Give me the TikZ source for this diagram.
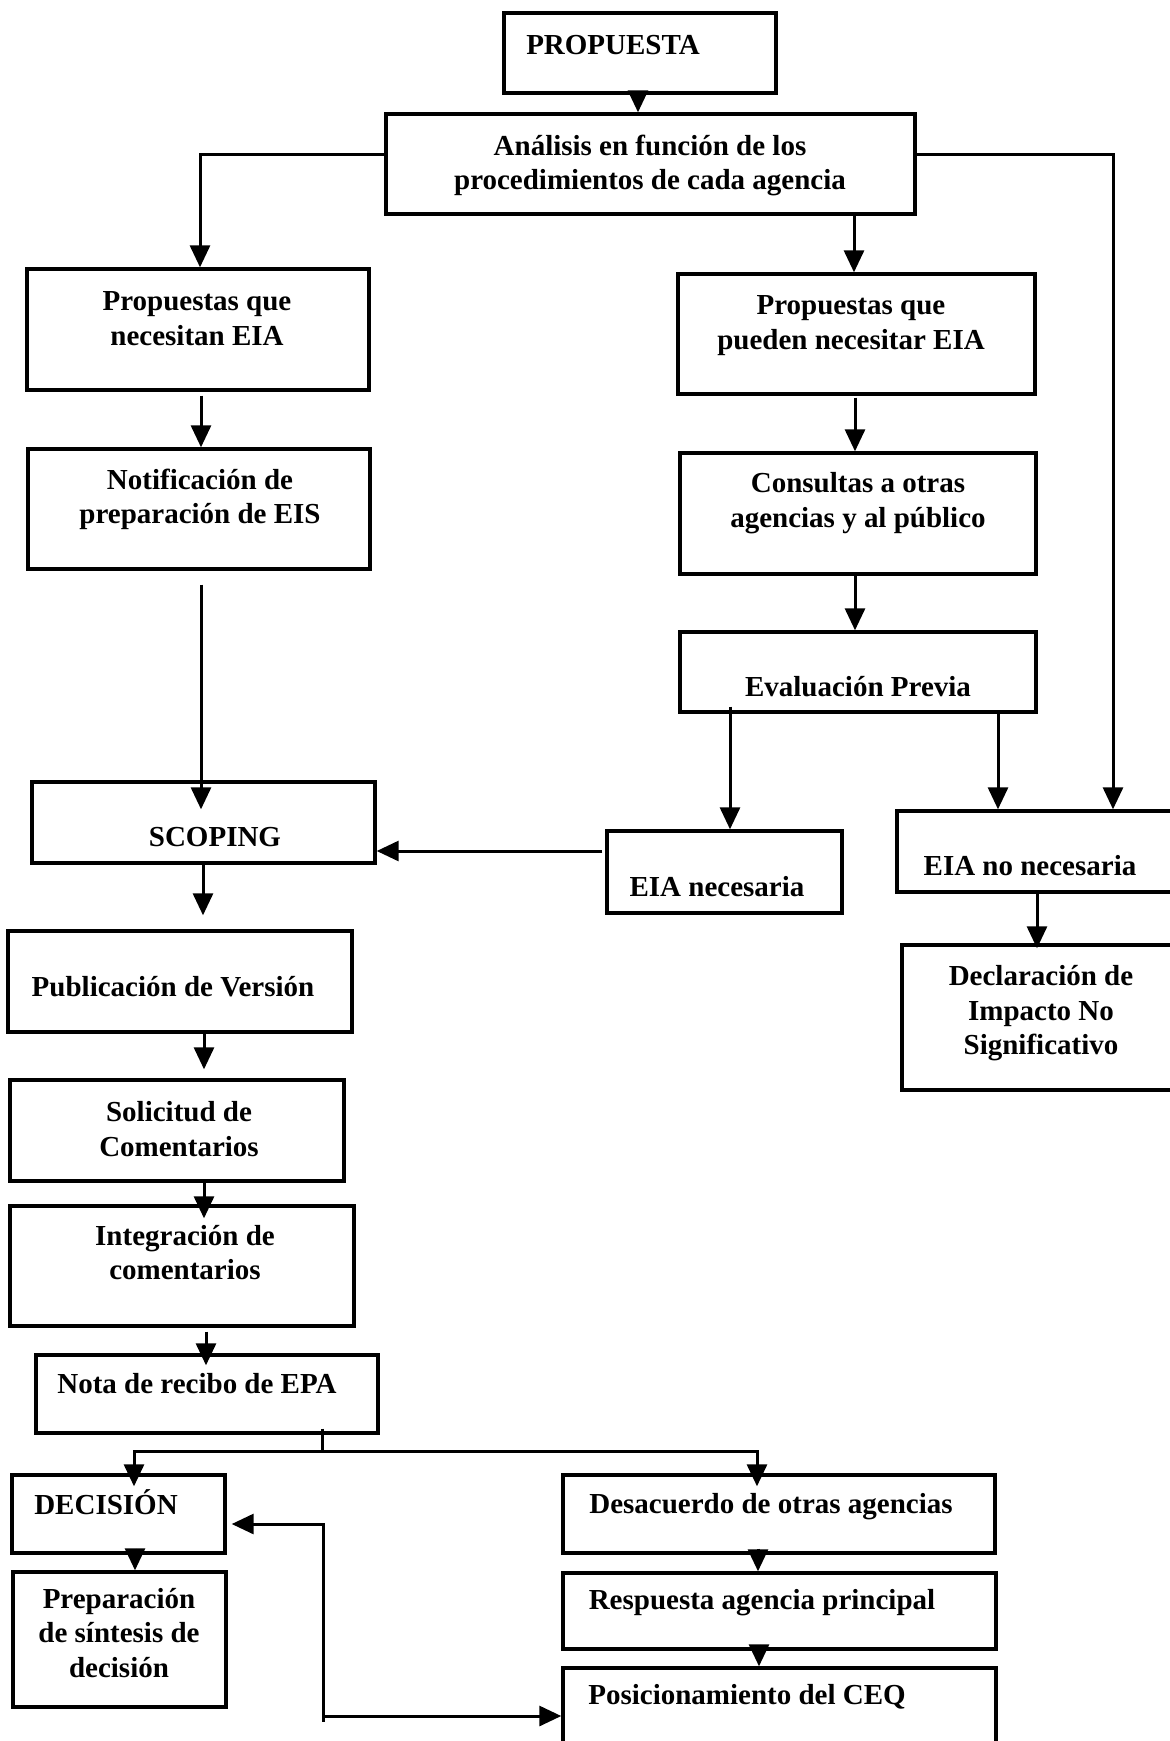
\documentclass[tikz,border=0pt]{standalone}
\usepackage{fontspec}
\setmainfont{Liberation Serif}
\usetikzlibrary{arrows.meta,fit,calc}
\tikzset{
  box/.style={draw, line width=1.7pt, inner sep=0pt, rectangle},
  txt/.style={inner sep=0pt, font=\bfseries\fontsize{14.5}{17.2}\selectfont, align=center, anchor=base},
  line/.style={line width=1.5pt},
  arr/.style={line width=1.5pt, -{Triangle[length=11pt,width=10pt]}},
  darr/.style={line width=1.5pt, {Triangle[length=11pt,width=10pt]}-{Triangle[length=11pt,width=10pt]}}
}
\begin{document}
\begin{tikzpicture}[x=0.5pt,y=-0.5pt]
\useasboundingbox (0,0) rectangle (1170,1741);
% boxes
\node[box, fit={(504,13) (776,93)}] (prop) {};
\node[box, fit={(386,114) (915,214)}] (anal) {};
\node[box, fit={(27,269) (369,390)}] (pne) {};
\node[box, fit={(678,274) (1035,394)}] (ppn) {};
\node[box, fit={(28,449) (370,569)}] (noti) {};
\node[box, fit={(680,453) (1036,574)}] (cons) {};
\node[box, fit={(680,632) (1036,712)}] (eval) {};
\node[box, fit={(32,782) (375,863)}] (scop) {};
\node[box, fit={(607,831) (842,913)}] (eian) {};
\node[box, fit={(897,811) (1185,892)}] (eiano) {};
\node[box, fit={(902,945) (1185,1090)}] (decl) {};
\node[box, fit={(8,931) (352,1032)}] (publ) {};
\node[box, fit={(10,1080) (344,1181)}] (soli) {};
\node[box, fit={(10,1206) (354,1326)}] (inte) {};
\node[box, fit={(36,1355) (378,1433)}] (nota) {};
\node[box, fit={(12,1475) (225,1553)}] (deci) {};
\node[box, fit={(563,1475) (995,1553)}] (desa) {};
\node[box, fit={(13,1572) (226,1707)}] (prep) {};
\node[box, fit={(563,1573) (996,1649)}] (resp) {};
\node[box, fit={(563,1668) (996,1770)}] (posi) {};
% texts (anchor = baseline of last line)
\node[txt] (propT) at (613,54) {PROPUESTA};
\node[txt] (analT) at (650,189.5) {Análisis en función de los\\procedimientos de cada agencia};
\node[txt] (pneT) at (197,345) {Propuestas que\\necesitan EIA};
\node[txt] (ppnT) at (851,349) {Propuestas que\\pueden necesitar EIA};
\node[txt] (notiT) at (200,523.5) {Notificación de\\preparación de EIS};
\node[txt] (consT) at (858,527) {Consultas a otras\\agencias y al público};
\node[txt] (evalT) at (858,696) {Evaluación Previa};
\node[txt] (scopT) at (215,846) {SCOPING};
\node[txt] (eianT) at (717,896) {EIA necesaria};
\node[txt] (eianoT) at (1030,875.5) {EIA no necesaria};
\node[txt] (declT) at (1041,1054.5) {Declaración de\\Impacto No\\Significativo};
\node[txt] (publT) at (173,996) {Publicación de Versión};
\node[txt] (soliT) at (179,1156) {Solicitud de\\Comentarios};
\node[txt] (inteT) at (185,1279.5) {Integración de\\comentarios};
\node[txt] (notaT) at (197,1393) {Nota de recibo de EPA};
\node[txt] (deciT) at (106,1514) {DECISIÓN};
\node[txt] (desaT) at (771,1513) {Desacuerdo de otras agencias};
\node[txt] (prepT) at (119,1677) {Preparación\\de síntesis de\\decisión};
\node[txt] (respT) at (762,1609) {Respuesta agencia principal};
\node[txt] (posiT) at (747,1704) {Posicionamiento del CEQ};
% connectors
\draw[arr] (prop.south -| 638,0) -- (anal.north -| 638,0);
\draw[arr] (anal.west |- 0,154) -| (pne.north -| 200,0);
\draw[arr] (anal.east |- 0,154) -| (eiano.north -| 1113,0);
\draw[arr] (anal.south -| 854,0) -- (ppn.north -| 854,0);
\draw[arr] ($(pne.south -| 201,0)+(0,4)$) -- (noti.north -| 201,0);
\draw[arr] ($(ppn.south -| 855,0)+(0,2)$) -- (cons.north -| 855,0);
\draw[arr] ($(noti.south -| 201,0)+(0,14)$) -- ($(scop.north -| 201,0)+(0,29)$);
\draw[arr] (cons.south -| 855,0) -- (eval.north -| 855,0);
\draw[arr] ($(eval.south -| 730,0)+(0,-7)$) -- (eian.north -| 730,0);
\draw[arr] (eval.south -| 998,0) -- (eiano.north -| 998,0);
\draw[arr] ($(eian.west |- 0,851)+(-3,0)$) -- (scop.east |- 0,851);
\draw[arr] (eiano.south -| 1037,0) -- ($(decl.north -| 1037,0)+(0,5)$);
\draw[arr] (scop.south -| 203,0) -- ($(publ.north -| 203,0)+(0,-14)$);
\draw[arr] (publ.south -| 204,0) -- ($(soli.north -| 204,0)+(0,-9)$);
\draw[arr] (soli.south -| 204,0) -- ($(inte.north -| 204,0)+(0,14)$);
\draw[arr] ($(inte.south -| 206,0)+(0,4)$) -- ($(nota.north -| 206,0)+(0,12)$);
\coordinate (br) at (322,1451);
\draw[line] ($(nota.south -| 322,0)+(0,-6)$) -- (br);
\draw[arr] (br) -| ($(deci.north -| 134,0)+(0,13)$);
\draw[arr] (br) -| ($(desa.north -| 757,0)+(0,13)$);
\draw[arr] ($(deci.south -| 135,0)+(0,-6)$) -- (prep.north -| 135,0);
\draw[arr] ($(desa.south -| 758,0)+(0,-6)$) -- (resp.north -| 758,0);
\draw[arr] ($(resp.south -| 759,0)+(0,-6)$) -- (posi.north -| 759,0);
\coordinate (fb1) at (323,1524);
\coordinate (fb2) at (323,1716);
\draw[darr] ($(deci.east |- fb1)+(5,0)$) -- (fb1) -- (fb2) -- (posi.west |- fb2);
\draw[line] (fb2) -- ++(0,6);
\end{tikzpicture}
\end{document}
